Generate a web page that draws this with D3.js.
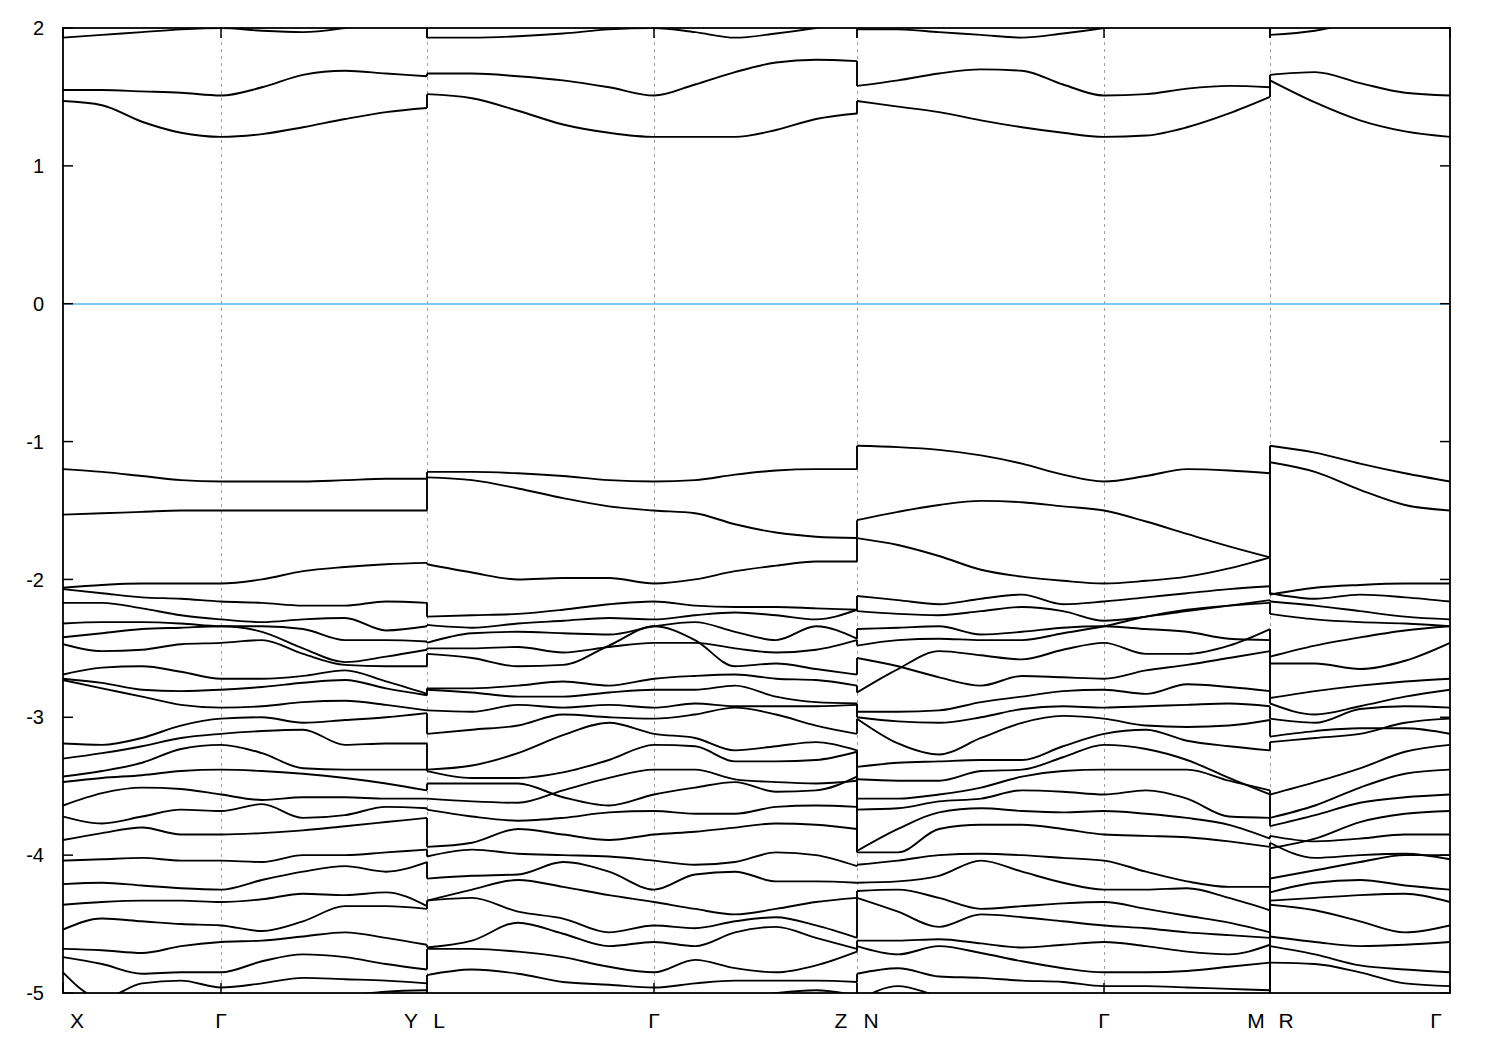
<!DOCTYPE html>
<html><head><meta charset="utf-8">
<script src="https://cdn.jsdelivr.net/npm/d3@7"></script>
<style>
body{margin:0;background:#fff;}
text{font-family:"Liberation Sans",Arial,sans-serif;}
</style>
</head><body>
<svg id="chart" width="1500" height="1050"></svg>
<script>
// ---------- data ----------
const kLabels = ["X","Γ","Y","L","Γ","Z","N","Γ","M","R","Γ"];
const kTicks  = [0, 0.158, 0.364, 0.364, 0.591, 0.794, 0.794, 1.041, 1.207, 1.207, 1.387];
const yTicks  = [-5,-4,-3,-2,-1,0,1,2];

// k nodes of each path panel
const kXGY = [0,0.039,0.079,0.118,0.158,0.199,0.240,0.282,0.323,0.364];
const kLGZ = [0.364,0.409,0.455,0.500,0.546,0.591,0.632,0.672,0.713,0.753,0.794];
const kNGM = [0.794,0.835,0.876,0.918,0.959,1.000,1.041,1.083,1.124,1.166,1.207];
const kRG  = [1.207,1.252,1.297,1.342,1.387];

// band energies (eV) at the nodes of each panel
const bandsXGY = [
 [1.47,1.44,1.32,1.24,1.21,1.23,1.28,1.34,1.39,1.42],
 [1.55,1.55,1.54,1.53,1.51,1.57,1.66,1.69,1.67,1.65],
 [1.93,1.95,1.97,1.99,2.00,1.98,1.97,2.00,2.05,2.10],
 [-1.20,-1.22,-1.25,-1.28,-1.29,-1.29,-1.29,-1.28,-1.27,-1.27],
 [-1.53,-1.52,-1.51,-1.50,-1.50,-1.50,-1.50,-1.50,-1.50,-1.50],
 [-2.06,-2.04,-2.03,-2.03,-2.03,-2.00,-1.94,-1.91,-1.89,-1.88],
 [-2.07,-2.10,-2.13,-2.14,-2.16,-2.17,-2.19,-2.19,-2.16,-2.17],
 [-2.17,-2.17,-2.21,-2.26,-2.29,-2.31,-2.29,-2.28,-2.37,-2.34],
 [-2.32,-2.31,-2.31,-2.32,-2.34,-2.34,-2.36,-2.44,-2.44,-2.45],
 [-2.42,-2.39,-2.36,-2.35,-2.34,-2.38,-2.50,-2.60,-2.56,-2.51],
 [-2.47,-2.52,-2.51,-2.47,-2.46,-2.44,-2.54,-2.62,-2.63,-2.63],
 [-2.69,-2.64,-2.63,-2.67,-2.72,-2.72,-2.70,-2.66,-2.74,-2.83],
 [-2.72,-2.75,-2.80,-2.81,-2.80,-2.78,-2.75,-2.73,-2.79,-2.84],
 [-2.73,-2.79,-2.85,-2.91,-2.93,-2.92,-2.89,-2.88,-2.91,-2.95],
 [-3.19,-3.20,-3.15,-3.06,-3.01,-3.00,-3.04,-3.02,-3.00,-2.97],
 [-3.30,-3.26,-3.21,-3.15,-3.12,-3.10,-3.09,-3.20,-3.19,-3.19],
 [-3.43,-3.39,-3.33,-3.23,-3.20,-3.26,-3.37,-3.38,-3.38,-3.38],
 [-3.47,-3.44,-3.42,-3.39,-3.38,-3.39,-3.41,-3.44,-3.48,-3.53],
 [-3.64,-3.55,-3.51,-3.52,-3.56,-3.60,-3.58,-3.58,-3.59,-3.59],
 [-3.72,-3.77,-3.72,-3.67,-3.68,-3.63,-3.73,-3.71,-3.65,-3.66],
 [-3.89,-3.84,-3.80,-3.85,-3.85,-3.84,-3.82,-3.79,-3.76,-3.73],
 [-4.04,-4.03,-4.02,-4.04,-4.04,-4.05,-4.00,-4.00,-3.98,-3.96],
 [-4.21,-4.20,-4.22,-4.24,-4.25,-4.18,-4.12,-4.08,-4.12,-4.05],
 [-4.36,-4.34,-4.33,-4.33,-4.34,-4.32,-4.28,-4.29,-4.27,-4.37],
 [-4.54,-4.46,-4.48,-4.50,-4.51,-4.55,-4.48,-4.37,-4.37,-4.39],
 [-4.68,-4.69,-4.71,-4.66,-4.63,-4.62,-4.59,-4.56,-4.60,-4.65],
 [-4.74,-4.79,-4.86,-4.85,-4.85,-4.77,-4.72,-4.74,-4.79,-4.83],
 [-4.85,-5.04,-4.93,-4.91,-4.96,-4.93,-4.89,-4.90,-4.91,-4.93],
 [-5.20,-5.20,-5.15,-5.10,-5.10,-5.05,-5.03,-5.02,-4.99,-4.98]
];
const bandsLGZ = [
 [1.52,1.49,1.40,1.30,1.24,1.21,1.21,1.21,1.26,1.34,1.38],
 [1.67,1.67,1.65,1.62,1.57,1.51,1.59,1.68,1.75,1.77,1.76],
 [1.93,1.93,1.94,1.96,1.99,2.00,1.97,1.93,1.96,2.00,2.05],
 [-1.22,-1.22,-1.23,-1.25,-1.28,-1.29,-1.28,-1.24,-1.21,-1.20,-1.20],
 [-1.26,-1.28,-1.34,-1.41,-1.47,-1.50,-1.52,-1.60,-1.66,-1.69,-1.70],
 [-1.89,-1.95,-2.00,-1.99,-1.99,-2.03,-2.00,-1.94,-1.90,-1.87,-1.87],
 [-2.27,-2.26,-2.25,-2.22,-2.18,-2.16,-2.19,-2.20,-2.20,-2.21,-2.22],
 [-2.33,-2.35,-2.32,-2.30,-2.28,-2.29,-2.26,-2.24,-2.26,-2.29,-2.22],
 [-2.46,-2.39,-2.38,-2.39,-2.40,-2.34,-2.31,-2.38,-2.44,-2.34,-2.43],
 [-2.50,-2.50,-2.49,-2.53,-2.49,-2.46,-2.46,-2.50,-2.53,-2.51,-2.44],
 [-2.54,-2.57,-2.63,-2.62,-2.48,-2.34,-2.44,-2.63,-2.61,-2.65,-2.69],
 [-2.79,-2.79,-2.77,-2.74,-2.77,-2.72,-2.70,-2.69,-2.72,-2.73,-2.77],
 [-2.80,-2.82,-2.85,-2.85,-2.82,-2.80,-2.80,-2.77,-2.85,-2.89,-2.90],
 [-2.95,-2.96,-2.91,-2.93,-2.91,-2.93,-2.90,-2.92,-2.92,-2.92,-2.91],
 [-3.12,-3.09,-3.06,-2.98,-3.00,-3.01,-2.98,-2.93,-2.98,-3.06,-3.12],
 [-3.38,-3.35,-3.26,-3.13,-3.04,-3.12,-3.15,-3.24,-3.21,-3.18,-3.24],
 [-3.39,-3.44,-3.44,-3.40,-3.31,-3.20,-3.21,-3.32,-3.32,-3.31,-3.25],
 [-3.59,-3.61,-3.62,-3.53,-3.44,-3.38,-3.38,-3.45,-3.47,-3.48,-3.46],
 [-3.48,-3.48,-3.48,-3.58,-3.64,-3.56,-3.51,-3.47,-3.54,-3.53,-3.43],
 [-3.67,-3.72,-3.75,-3.73,-3.69,-3.68,-3.70,-3.70,-3.65,-3.64,-3.65],
 [-3.94,-3.91,-3.81,-3.85,-3.89,-3.85,-3.83,-3.80,-3.77,-3.78,-3.81],
 [-4.01,-3.96,-3.99,-4.00,-4.01,-4.04,-4.07,-4.05,-3.98,-4.00,-4.08],
 [-4.17,-4.15,-4.14,-4.05,-4.12,-4.25,-4.14,-4.12,-4.19,-4.19,-4.20],
 [-4.33,-4.25,-4.18,-4.23,-4.29,-4.34,-4.39,-4.43,-4.39,-4.34,-4.31],
 [-4.33,-4.31,-4.41,-4.46,-4.56,-4.51,-4.53,-4.48,-4.45,-4.51,-4.60],
 [-4.67,-4.62,-4.49,-4.57,-4.66,-4.63,-4.66,-4.56,-4.52,-4.60,-4.68],
 [-4.68,-4.68,-4.70,-4.74,-4.81,-4.85,-4.76,-4.82,-4.85,-4.80,-4.70],
 [-4.87,-4.83,-4.86,-4.92,-4.94,-4.96,-4.93,-4.91,-4.91,-4.91,-4.92],
 [-5.05,-5.05,-5.04,-5.02,-5.05,-5.05,-5.05,-5.04,-5.00,-4.98,-5.02]
];
const bandsNGM = [
 [1.47,1.43,1.39,1.33,1.28,1.24,1.21,1.22,1.28,1.38,1.50],
 [1.58,1.62,1.67,1.70,1.69,1.59,1.51,1.52,1.56,1.58,1.57],
 [1.99,1.99,1.97,1.95,1.93,1.96,2.00,2.05,2.08,2.10,2.10],
 [-1.03,-1.04,-1.06,-1.10,-1.16,-1.24,-1.29,-1.25,-1.20,-1.21,-1.23],
 [-1.57,-1.51,-1.46,-1.43,-1.44,-1.47,-1.50,-1.58,-1.67,-1.76,-1.84],
 [-1.70,-1.75,-1.83,-1.93,-1.98,-2.01,-2.03,-2.01,-1.98,-1.92,-1.84],
 [-2.12,-2.15,-2.18,-2.14,-2.11,-2.18,-2.16,-2.13,-2.10,-2.07,-2.05],
 [-2.23,-2.25,-2.26,-2.23,-2.20,-2.23,-2.30,-2.27,-2.23,-2.19,-2.15],
 [-2.36,-2.35,-2.34,-2.40,-2.38,-2.35,-2.34,-2.36,-2.38,-2.43,-2.44],
 [-2.48,-2.44,-2.43,-2.44,-2.44,-2.39,-2.34,-2.27,-2.22,-2.19,-2.17],
 [-2.57,-2.63,-2.71,-2.77,-2.70,-2.71,-2.72,-2.66,-2.62,-2.57,-2.52],
 [-2.82,-2.65,-2.52,-2.55,-2.58,-2.51,-2.46,-2.54,-2.54,-2.48,-2.36],
 [-2.96,-2.96,-2.95,-2.89,-2.85,-2.81,-2.80,-2.83,-2.76,-2.78,-2.81],
 [-3.00,-3.03,-3.04,-3.00,-2.94,-2.92,-2.93,-2.92,-2.91,-2.90,-2.92],
 [-3.01,-3.19,-3.27,-3.15,-3.04,-2.99,-3.01,-3.06,-3.07,-3.06,-3.02],
 [-3.36,-3.33,-3.32,-3.31,-3.31,-3.21,-3.12,-3.09,-3.17,-3.21,-3.24],
 [-3.45,-3.46,-3.46,-3.39,-3.38,-3.29,-3.20,-3.23,-3.31,-3.44,-3.56],
 [-3.59,-3.59,-3.56,-3.51,-3.43,-3.39,-3.38,-3.38,-3.38,-3.46,-3.53],
 [-3.67,-3.66,-3.61,-3.59,-3.53,-3.54,-3.56,-3.53,-3.59,-3.72,-3.73],
 [-3.97,-3.81,-3.69,-3.66,-3.68,-3.69,-3.68,-3.70,-3.73,-3.78,-3.88],
 [-3.98,-3.98,-3.81,-3.78,-3.78,-3.81,-3.85,-3.86,-3.87,-3.90,-3.94],
 [-4.07,-4.04,-4.00,-3.99,-4.00,-4.02,-4.04,-4.12,-4.19,-4.23,-4.23],
 [-4.20,-4.19,-4.15,-4.04,-4.12,-4.20,-4.25,-4.25,-4.24,-4.31,-4.40],
 [-4.26,-4.25,-4.31,-4.39,-4.37,-4.35,-4.34,-4.39,-4.44,-4.49,-4.56],
 [-4.31,-4.41,-4.52,-4.43,-4.45,-4.48,-4.51,-4.53,-4.56,-4.58,-4.60],
 [-4.62,-4.62,-4.61,-4.64,-4.67,-4.65,-4.63,-4.66,-4.70,-4.72,-4.65],
 [-4.66,-4.72,-4.66,-4.71,-4.77,-4.82,-4.85,-4.85,-4.84,-4.81,-4.78],
 [-4.86,-4.82,-4.88,-4.89,-4.91,-4.92,-4.95,-4.95,-4.96,-4.97,-4.98],
 [-5.06,-4.95,-5.02,-5.06,-5.08,-5.08,-5.07,-5.05,-5.04,-5.03,-5.02]
];
const bandsRG = [
 [1.62,1.46,1.33,1.25,1.21],
 [1.66,1.68,1.60,1.53,1.51],
 [1.95,1.98,2.05,2.10,2.10],
 [-1.03,-1.08,-1.16,-1.23,-1.29],
 [-1.15,-1.22,-1.35,-1.46,-1.50],
 [-2.11,-2.06,-2.04,-2.03,-2.03],
 [-2.10,-2.14,-2.11,-2.13,-2.16],
 [-2.16,-2.19,-2.23,-2.27,-2.29],
 [-2.25,-2.29,-2.31,-2.32,-2.34],
 [-2.56,-2.48,-2.42,-2.37,-2.34],
 [-2.61,-2.61,-2.65,-2.59,-2.46],
 [-2.86,-2.81,-2.77,-2.74,-2.72],
 [-2.90,-2.98,-2.92,-2.85,-2.80],
 [-3.01,-3.04,-2.94,-2.92,-2.93],
 [-3.14,-3.10,-3.08,-3.08,-3.12],
 [-3.18,-3.15,-3.12,-3.04,-3.01],
 [-3.56,-3.47,-3.37,-3.25,-3.20],
 [-3.73,-3.64,-3.51,-3.41,-3.38],
 [-3.79,-3.71,-3.62,-3.58,-3.56],
 [-3.95,-3.88,-3.76,-3.70,-3.68],
 [-3.86,-3.90,-3.88,-3.85,-3.85],
 [-3.91,-4.02,-4.00,-3.99,-4.03],
 [-4.17,-4.11,-4.05,-4.00,-4.00],
 [-4.27,-4.20,-4.18,-4.22,-4.25],
 [-4.33,-4.31,-4.29,-4.28,-4.34],
 [-4.36,-4.40,-4.48,-4.56,-4.51],
 [-4.59,-4.63,-4.66,-4.65,-4.63],
 [-4.66,-4.72,-4.80,-4.83,-4.85],
 [-4.78,-4.79,-4.85,-4.93,-4.95]
];

// ---------- layout ----------
const L = 63, R = 1450, T = 28, B = 993;
const labelShift = [14,0,-16,12,0,-16,14,0,-14,16,-14];

const svg = d3.select("#chart");
const x = d3.scaleLinear().domain([kTicks[0], kTicks[kTicks.length-1]]).range([L, R]);
const y = d3.scaleLinear().domain([-5, 2]).range([B, T]);

svg.append("defs").append("clipPath").attr("id","clip")
  .append("rect").attr("x",L).attr("y",T).attr("width",R-L).attr("height",B-T);

// dashed vertical grid lines at interior symmetry points
const gridK = Array.from(new Set(kTicks.slice(1,-1)));
svg.append("g").selectAll("line").data(gridK).join("line")
  .attr("x1",d=>Math.round(x(d))+0.5).attr("x2",d=>Math.round(x(d))+0.5).attr("y1",T).attr("y2",B)
  .attr("stroke","#a0a0a0").attr("stroke-width",1).attr("stroke-dasharray","3,4");

// Fermi level
svg.append("line").attr("x1",L).attr("x2",R).attr("y1",Math.round(y(0))).attr("y2",Math.round(y(0)))
  .attr("stroke","#56b4e9").attr("stroke-width",1.6);

const panels = [
  {k:kXGY, bands:bandsXGY},
  {k:kLGZ, bands:bandsLGZ},
  {k:kNGM, bands:bandsNGM},
  {k:kRG,  bands:bandsRG}
];

const g = svg.append("g").attr("clip-path","url(#clip)");
const line = d3.line().x(d=>x(d[0])).y(d=>y(d[1])).curve(d3.curveMonotoneX);

panels.forEach(p=>{
  g.append("g").selectAll("path").data(p.bands).join("path")
    .attr("d", b=>line(p.k.map((kk,i)=>[kk,b[i]])))
    .attr("fill","none").attr("stroke","#000").attr("stroke-width",1.9)
    .attr("stroke-linejoin","round");
});

// vertical jumps at the path discontinuities (bands connected in energy order)
for (let i=0;i<panels.length-1;i++){
  const p = panels[i], q = panels[i+1];
  const kk = p.k[p.k.length-1];
  const ends = p.bands.map(b=>b[b.length-1]).sort(d3.descending);
  const starts = q.bands.map(b=>b[0]).sort(d3.descending);
  const pairs = ends.map((v,j)=>[v, starts[j]]).filter(d=>d[1]!==undefined);
  g.append("g").selectAll("line").data(pairs).join("line")
    .attr("x1",x(kk)).attr("x2",x(kk))
    .attr("y1",d=>y(d[0])).attr("y2",d=>y(d[1]))
    .attr("stroke","#000").attr("stroke-width",1.9);
}

// frame
svg.append("rect").attr("x",L).attr("y",T).attr("width",R-L).attr("height",B-T)
  .attr("fill","none").attr("stroke","#000").attr("stroke-width",1.8);

// y ticks (left and mirrored right)
const yt = svg.append("g");
yt.selectAll("line.l").data(yTicks).join("line").attr("class","l")
  .attr("x1",L).attr("x2",L+10).attr("y1",d=>y(d)).attr("y2",d=>y(d))
  .attr("stroke","#000").attr("stroke-width",1.5);
yt.selectAll("line.r").data(yTicks).join("line").attr("class","r")
  .attr("x1",R-10).attr("x2",R).attr("y1",d=>y(d)).attr("y2",d=>y(d))
  .attr("stroke","#000").attr("stroke-width",1.5);
yt.selectAll("text").data(yTicks).join("text")
  .attr("x",44).attr("y",d=>y(d)).attr("dy","0.36em")
  .attr("text-anchor","end").attr("font-size",20).attr("fill","#000")
  .text(d=>String(d));

// x ticks (bottom and top)
const xt = svg.append("g");
xt.selectAll("line.b").data(kTicks).join("line").attr("class","b")
  .attr("x1",d=>x(d)).attr("x2",d=>x(d)).attr("y1",B).attr("y2",B-10)
  .attr("stroke","#000").attr("stroke-width",1.5);
xt.selectAll("line.t").data(kTicks).join("line").attr("class","t")
  .attr("x1",d=>x(d)).attr("x2",d=>x(d)).attr("y1",T).attr("y2",T+10)
  .attr("stroke","#000").attr("stroke-width",1.5);
xt.selectAll("text").data(kTicks).join("text")
  .attr("x",(d,i)=>x(d)+labelShift[i]).attr("y",1028)
  .attr("text-anchor","middle").attr("font-size",21).attr("fill","#000")
  .text((d,i)=>kLabels[i]);
</script>
</body></html>
